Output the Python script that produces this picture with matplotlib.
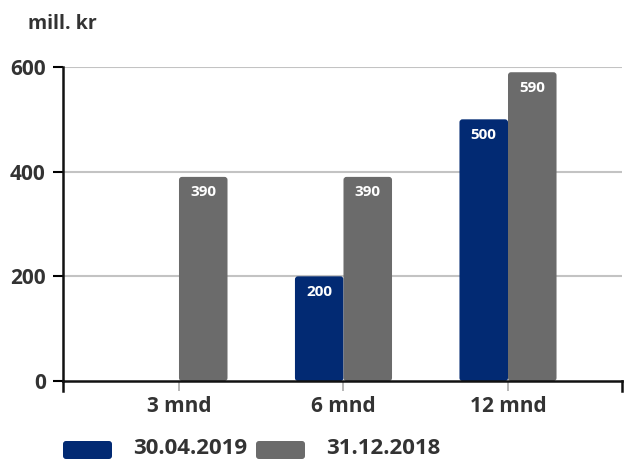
import matplotlib
matplotlib.use("Agg")
import matplotlib.pyplot as plt
from matplotlib.patches import FancyBboxPatch
import numpy as np

plt.rcParams['font.family'] = ['Open Sans', 'DejaVu Sans']

categories = ["3 mnd", "6 mnd", "12 mnd"]
series_names = ["30.04.2019", "31.12.2018"]
values_apr2019 = [None, 200, 500]
values_dec2018 = [390, 390, 590]
y_ticks = [0, 200, 400, 600]

BLUE = "#022a73"
GRAY = "#6b6b6b"
TEXT = "#333333"
GRID = "#c3c3c3"
AXIS = "#111111"

fig = plt.figure(figsize=(6.24, 4.59), dpi=100)
ax = fig.add_axes([63/624, 1-381/459, (622-63)/624, (381-67)/459])

x = np.arange(len(categories))
w = 0.295
ax.set_xlim(-0.705, 2.693)
ax.set_ylim(0, 600)

# px-per-data-unit, used to keep the corner rounding circular
px_x = (622-63) / (2.693+0.705)
px_y = (381-67) / 600.0
rad_px = 3.0

def draw_series(vals, offset, color):
    xs = [xi + offset for xi, v in zip(x, vals) if v is not None]
    hs = [v for v in vals if v is not None]
    bars = ax.bar(xs, hs, width=w, color=color, align='center', zorder=3)
    for b, h in zip(bars, hs):
        bx, by = b.get_x(), b.get_y()
        bw, bh = b.get_width(), b.get_height()
        b.remove()
        patch = FancyBboxPatch((bx, by), bw, bh,
                               boxstyle=f"round,pad=0,rounding_size={rad_px/px_x}",
                               mutation_aspect=px_x/px_y,
                               facecolor=color, edgecolor='none', zorder=3)
        ax.add_patch(patch)
        ax.annotate(f"{h}", xy=(bx + bw/2, h), xytext=(0, -11),
                    textcoords='offset points', ha='center', va='center',
                    color='white', fontsize=11, fontweight='bold', zorder=4)

draw_series(values_apr2019, -w/2, BLUE)
draw_series(values_dec2018, w/2, GRAY)

# grid
for t in y_ticks[1:]:
    ax.axhline(t, color=GRID, lw=1.5, zorder=1)

for s in ['top', 'right']:
    ax.spines[s].set_visible(False)
for s in ['left', 'bottom']:
    ax.spines[s].set_color(AXIS)
    ax.spines[s].set_linewidth(1.8)
ax.spines['bottom'].set_zorder(5)

ax.set_yticks(y_ticks)
ax.set_yticklabels([str(t) for t in y_ticks], fontsize=15, fontweight='bold', color=TEXT)
ax.tick_params(axis='y', length=7.5, width=1.5, pad=5)
for t, tl in zip(y_ticks, ax.yaxis.get_major_ticks()):
    tl.tick1line.set_color(AXIS if t in (0, 600) else GRID)

ax.set_xticks(x)
ax.set_xticklabels(categories, fontsize=15, fontweight='bold', color=TEXT)
ax.tick_params(axis='x', length=7, width=1.2, color='#aaaaaa', pad=4)

# boundary ticks at the ends of the category axis
for xe in ax.get_xlim():
    ax.plot([xe, xe], [0, -20], color=AXIS, lw=1.8, clip_on=False, zorder=5)

fig.text(28/624, 1-24/459, "mill. kr", fontsize=14, fontweight='bold', color=TEXT,
         ha='left', va='center')

# legend
leg_y = 1-448/459
for (name, col, px0, tx0) in [(series_names[0], BLUE, 63, 133), (series_names[1], GRAY, 256, 326)]:
    fig.patches.append(FancyBboxPatch((px0/624, 0), 49/624, 18/459,
                                      boxstyle=f"round,pad=0,rounding_size={3/624}",
                                      mutation_aspect=624/459,
                                      transform=fig.transFigure, facecolor=col,
                                      edgecolor='none'))
    fig.text(tx0/624, leg_y, name, fontsize=16, fontweight='bold', color=TEXT,
             ha='left', va='center')

fig.savefig("out.png", dpi=100)
